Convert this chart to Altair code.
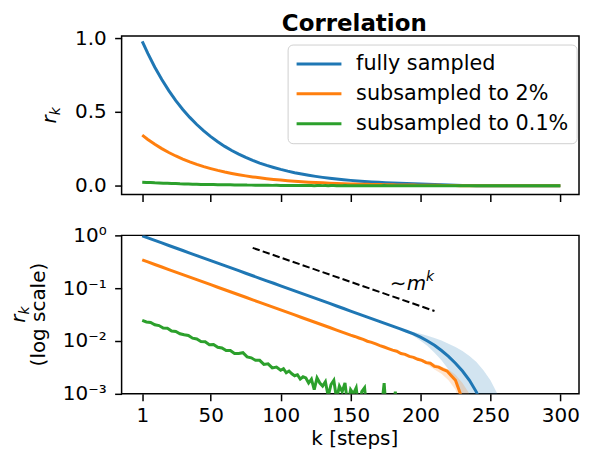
import altair as alt
import pandas as pd

# ---------------- data ----------------
series_names = ["fully sampled", "subsampled to 2%", "subsampled to 0.1%"]
series_colors = ["#1f77b4", "#ff7f0e", "#2ca02c"]

full_k = [1] + list(range(5, 251, 5)) + [260, 270, 280, 290, 300]
full_r = [0.978, 0.896, 0.803, 0.719, 0.644, 0.577, 0.517, 0.463, 0.415, 0.372,
          0.333, 0.298, 0.267, 0.239, 0.2145, 0.192, 0.172, 0.154, 0.138, 0.124,
          0.111, 0.0994, 0.089, 0.0797, 0.0714, 0.064, 0.0573, 0.0514, 0.046, 0.0412,
          0.0369, 0.0331, 0.0296, 0.0266, 0.0238, 0.0213, 0.0191, 0.0171, 0.0153, 0.0136,
          0.0118, 0.0100, 0.0083, 0.0066, 0.0051, 0.0038, 0.0027, 0.0018, 0.00108, 0.0005,
          0.0002, 0.0001, 0.0001, 0.0001, 0.0001, 0.0001]

sub2_k = [1] + list(range(5, 146, 5)) + list(range(150, 235, 3)) + [240, 250, 260, 270, 280, 290, 300]
sub2_r = [0.343, 0.314, 0.281, 0.252, 0.2254, 0.202, 0.181, 0.162, 0.1453, 0.130,
          0.1166, 0.1043, 0.0935, 0.0838, 0.0751, 0.0673, 0.0602, 0.054, 0.0483, 0.0433,
          0.0388, 0.0348, 0.0312, 0.0279, 0.0250, 0.0224, 0.0201, 0.0180, 0.0161, 0.0144,
          0.0129, 0.0122, 0.0114, 0.0107, 0.0099, 0.0094, 0.0088, 0.0082, 0.0077, 0.0072,
          0.0067, 0.0064, 0.0058, 0.0056, 0.0051, 0.0049, 0.0045, 0.0043, 0.0039, 0.0038,
          0.0033, 0.0032, 0.0029, 0.0027, 0.0022, 0.0018, 0.0011, 0.0006, 0.0003,
          0.0001, 0.0001, 0.0001, 0.0001, 0.0001, 0.0001, 0.0001]

sub01_k = list(range(1, 101, 3)) + list(range(102, 191, 2)) + list(range(200, 301, 10))
sub01_r = [0.0245, 0.0229, 0.0224, 0.0203, 0.0196, 0.0176, 0.0174, 0.0155, 0.0152, 0.0137,
           0.0131, 0.0127, 0.0113, 0.0109, 0.0098, 0.0097, 0.0085, 0.0086, 0.0076, 0.0074,
           0.0066, 0.0066, 0.0058, 0.0058, 0.0060, 0.0050, 0.0048, 0.0043, 0.0043, 0.0036,
           0.0037, 0.0031, 0.0032, 0.0028,
           0.0030, 0.0025, 0.0027, 0.0024, 0.0022, 0.0023, 0.0019, 0.0021, 0.0020, 0.0016,
           0.0019, 0.0012, 0.0020, 0.0016, 0.0014, 0.0017, 0.0009, 0.0015, 0.0018, 0.0008,
           0.0014, 0.0011, 0.0016, 0.0006, 0.0012, 0.0010, 0.0013, 0.0005, 0.0011, 0.0013,
           0.0004, 0.0008, 0.0003, 0.0006, 0.0002, 0.0005, 0.0016, 0.0003, 0.0002, 0.0004,
           0.0011, 0.0002, 0.0001, 0.0002, 0.0001,
           0.0001, 0.0001, 0.0001, 0.0001, 0.0001, 0.0001, 0.0001, 0.0001, 0.0001, 0.0001, 0.0001]

full_band_k = list(range(180, 266, 5))
full_band_lo = [0.0189, 0.0167, 0.0146, 0.0124, 0.0101, 0.0080, 0.0060, 0.0043, 0.0029,
                0.0017, 0.0008, 0.0003, 0.0001, 0.0001, 0.0001, 0.0001, 0.0001, 0.0001]
full_band_hi = [0.0193, 0.0175, 0.0160, 0.0148, 0.0137, 0.0126, 0.0114, 0.0102, 0.0089,
                0.0077, 0.0065, 0.0052, 0.0040, 0.0028, 0.0018, 0.0010, 0.0005, 0.0002]

sub2_band_k = list(range(195, 241, 5))
sub2_band_lo = [0.0046, 0.0041, 0.0035, 0.0029, 0.0024, 0.0018, 0.0012, 0.0005, 0.0002, 0.0001]
sub2_band_hi = [0.0052, 0.0047, 0.0042, 0.0037, 0.0033, 0.0029, 0.0023, 0.0016, 0.0010, 0.0005]

guide_k = [80, 210]
guide_r = [0.58, 0.037]

anno_k = [178]
anno_r = [0.094]

x_ticks = [1, 50, 100, 150, 200, 250, 300]
lin_ticks = [0.0, 0.5, 1.0]
log_ticks = [0.001, 0.01, 0.1, 1.0]

# ---------------- tables ----------------
df_lines = pd.concat([
    pd.DataFrame({"k": full_k, "r": full_r, "series": series_names[0]}),
    pd.DataFrame({"k": sub2_k, "r": sub2_r, "series": series_names[1]}),
    pd.DataFrame({"k": sub01_k, "r": sub01_r, "series": series_names[2]}),
], ignore_index=True)

df_bands = pd.concat([
    pd.DataFrame({"k": full_band_k, "lo": full_band_lo, "hi": full_band_hi, "series": series_names[0]}),
    pd.DataFrame({"k": sub2_band_k, "lo": sub2_band_lo, "hi": sub2_band_hi, "series": series_names[1]}),
], ignore_index=True)

df_guide = pd.DataFrame({"k": guide_k, "r": guide_r})
df_anno = pd.DataFrame({"k": anno_k, "r": anno_r})

# ---------------- scales / axes ----------------
FONT = "DejaVu Sans"
W, H = 459, 159

xscale = alt.Scale(domain=[-13.75, 313.35], nice=False, zero=False)
lin_scale = alt.Scale(domain=[-0.0588, 1.0135], nice=False, zero=False)
log_scale = alt.Scale(type="log", domain=[0.001, 1.0], nice=False)
color_scale = alt.Scale(domain=series_names, range=series_colors)

x_axis_top = alt.Axis(values=x_ticks, labels=False, title=None)
x_axis_bot = alt.Axis(values=x_ticks, title="k [steps]", labelPadding=4.6,
                      titleFontSize=20, titleFontWeight="normal", titleFont=FONT,
                      titleBaseline="alphabetic", titleY=51, titleX=233.5, titleColor="black")
y_axis_lin = alt.Axis(values=lin_ticks, format=".1f", title=None, labelPadding=8.5)
log_label = ("datum.value > 0.5 ? '10\u2070' : datum.value > 0.05 ? '10\u207b\u00b9' : "
             "datum.value > 0.005 ? '10\u207b\u00b2' : '10\u207b\u00b3'")
y_axis_log = alt.Axis(values=log_ticks, title=None, labelExpr=log_label, labelPadding=8.5)

legend = alt.Legend(title=None, orient="none", direction="vertical", legendX=166.6, legendY=8.5,
                    symbolType="stroke", symbolSize=2025, symbolStrokeWidth=3,
                    clipHeight=24, rowPadding=6, padding=7.5, labelOffset=13.2, symbolOffset=0,
                    labelFontSize=20.8, labelFont=FONT, labelColor="black", labelLimit=400,
                    fillColor="white", strokeColor="#d0d0d0", cornerRadius=5)


def free_text(text, x, y, size, italic=False, dy=0, align="left", angle=270, weight="normal"):
    return alt.Chart(pd.DataFrame({"t": [text]})).mark_text(
        angle=angle, align=align, baseline="alphabetic", fontSize=size,
        fontStyle="italic" if italic else "normal", fontWeight=weight,
        dy=dy, color="black", font=FONT
    ).encode(x=alt.value(x), y=alt.value(y), text="t:N")


# ---------------- top panel ----------------
top_lines = alt.Chart(df_lines).mark_line(strokeWidth=3).encode(
    x=alt.X("k:Q", scale=xscale, axis=x_axis_top),
    y=alt.Y("r:Q", scale=lin_scale, axis=y_axis_lin),
    color=alt.Color("series:N", scale=color_scale, legend=legend, sort=series_names),
)

top = alt.layer(
    top_lines,
    free_text("r", -65.7, 87.7, 20, italic=True),
    free_text("k", -65.7, 79.5, 14, italic=True, dy=4),
    free_text("Correlation", 233.5, -5.1, 23, align="center", angle=0, weight="bold"),
).properties(width=W, height=H)

# ---------------- bottom panel ----------------
bx = alt.X("k:Q", scale=xscale, axis=x_axis_bot)

bands = alt.Chart(df_bands).mark_area(opacity=0.2, clip=True).encode(
    x=bx,
    y=alt.Y("lo:Q", scale=log_scale, axis=y_axis_log),
    y2="hi:Q",
    color=alt.Color("series:N", scale=color_scale, legend=None),
)

bot_lines = alt.Chart(df_lines).mark_line(strokeWidth=3, clip=True).encode(
    x=bx,
    y=alt.Y("r:Q", scale=log_scale, axis=y_axis_log),
    color=alt.Color("series:N", scale=color_scale, legend=None, sort=series_names),
)

guide = alt.Chart(df_guide).mark_line(strokeDash=[7.4, 3.2], strokeWidth=2, color="black").encode(
    x=bx,
    y=alt.Y("r:Q", scale=log_scale, axis=y_axis_log),
)


def anno_piece(text, size, italic, dx=0, dy=0):
    return alt.Chart(df_anno).mark_text(
        text=text, align="left", baseline="alphabetic", fontSize=size,
        fontStyle="italic" if italic else "normal", dx=dx, dy=dy, color="black", font=FONT
    ).encode(
        x=bx,
        y=alt.Y("r:Q", scale=log_scale, axis=y_axis_log),
    )


bottom = alt.layer(
    bands, bot_lines, guide,
    anno_piece("\u223c", 20, False),
    anno_piece("m", 20, True, dx=17),
    anno_piece("k", 14, True, dx=36.5, dy=-9),
    free_text("r", -97, 87.7, 20, italic=True),
    free_text("k", -97, 79.5, 14, italic=True, dy=4),
    free_text("(log scale)", -76.5, 79.5, 20, align="center"),
).properties(width=W, height=H)

chart = alt.vconcat(top, bottom, spacing=41, bounds="flush").resolve_scale(
    color="independent"
).properties(
    padding={"left": 0, "top": 3.4, "right": 0, "bottom": 1}
).configure(font=FONT).configure_axis(
    grid=False, domain=False, tickColor="black", tickWidth=1.5, tickSize=7,
    labelFont=FONT, labelFontSize=20, labelColor="black",
).configure_view(stroke="black", strokeWidth=1.5)

chart.save("out.html", embed_options={"renderer": "svg", "actions": False})
